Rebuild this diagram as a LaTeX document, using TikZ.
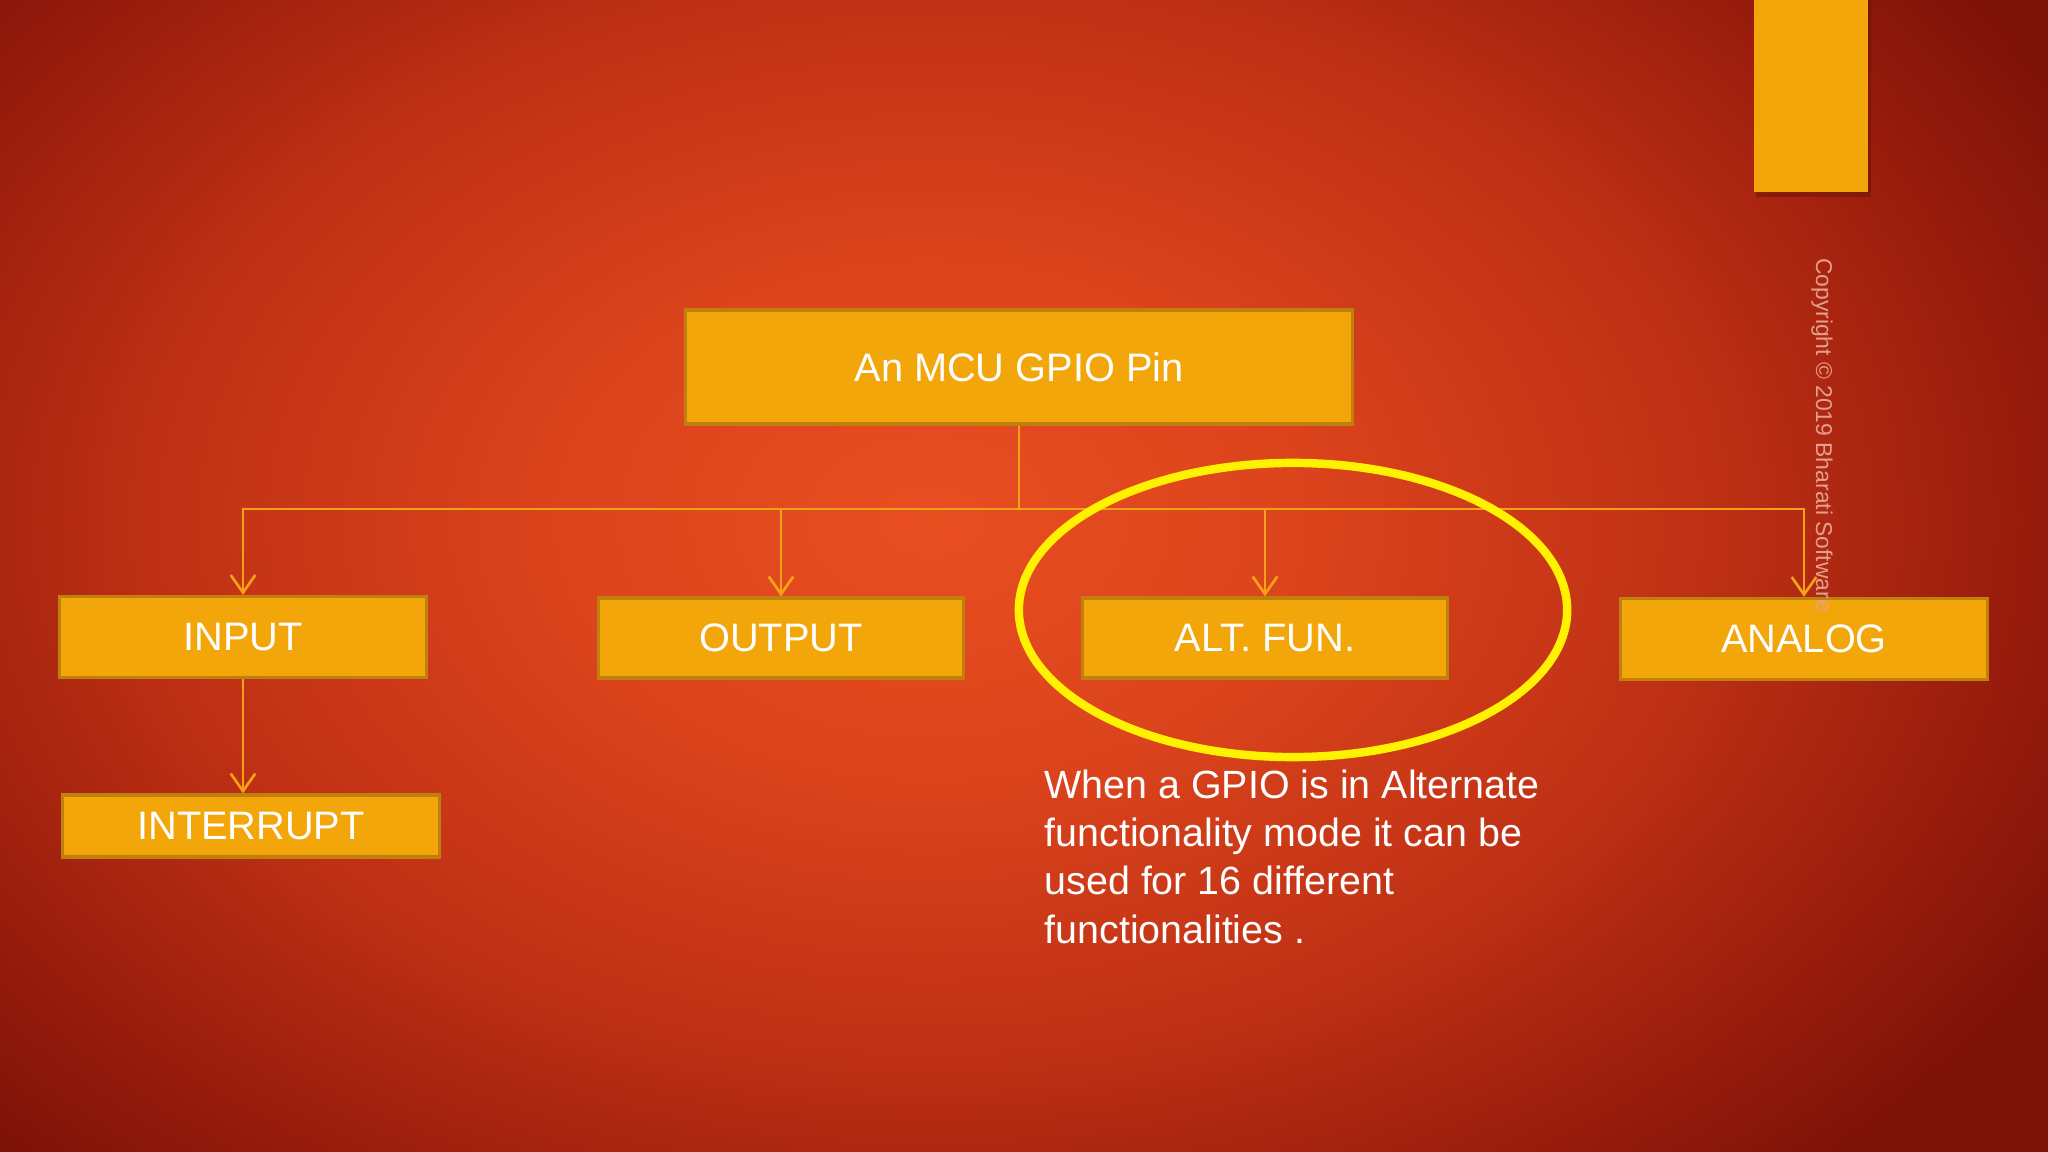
\documentclass[tikz,border=0pt]{standalone}
\usepackage{fontspec}
\setmainfont{Liberation Sans}
\usetikzlibrary{arrows.meta,shapes.geometric}
\definecolor{bgin}{RGB}{232,78,32}
\definecolor{bga}{RGB}{220,68,28}
\definecolor{bgb}{RGB}{190,48,20}
\definecolor{bgc}{RGB}{152,28,12}
\definecolor{bgout}{RGB}{125,18,8}
\definecolor{boxfill}{RGB}{243,166,10}
\definecolor{boxedge}{RGB}{192,128,14}
\definecolor{linec}{RGB}{247,162,22}
\definecolor{ringc}{RGB}{255,242,0}
\definecolor{copyc}{RGB}{228,160,140}
\definecolor{shadowc}{RGB}{100,16,6}
\pgfdeclareradialshading{bgshade}{\pgfpoint{0bp}{0bp}}{color(0bp)=(bgin); color(7bp)=(bga); color(15bp)=(bgb); color(21bp)=(bgc); color(25bp)=(bgout); color(50bp)=(bgout)}
\tikzset{
  gbox/.style={draw=boxedge, line width=0.9pt, fill=boxfill, text=white, inner sep=0pt,
    font=\fontsize{11.3pt}{13.5pt}\selectfont},
  conn/.style={draw=linec, line width=0.75pt},
  arr/.style={conn, -{Straight Barb[length=5pt, width=7pt, line width=0.75pt]}},
}
\begin{document}
\begin{tikzpicture}[x=0.01cm, y=-0.01cm]
\useasboundingbox (0,0) rectangle (2048,1152);
\fill[bgout] (0,0) rectangle (2048,1152);
\begin{scope}
  \clip (0,0) rectangle (2048,1152);
  \shade[shading=bgshade] (930,520) ellipse [x radius=1300, y radius=900];
\end{scope}
% top-right tab
\fill[shadowc, opacity=0.45] (1756,0) rectangle (1871,197);
\fill[boxfill] (1754,0) rectangle (1868,192);
% boxes
\node[gbox, minimum width=6.66cm, minimum height=1.14cm] (top) at (1019,367) {An MCU GPIO Pin};
\node[gbox, minimum width=3.66cm, minimum height=0.81cm] (input) at (243,637) {INPUT};
\node[gbox, minimum width=3.64cm, minimum height=0.80cm] (output) at (781,638) {OUTPUT};
\node[gbox, minimum width=3.65cm, minimum height=0.80cm] (alt) at (1265,638) {ALT. FUN.};
\node[gbox, minimum width=3.67cm, minimum height=0.81cm] (analog) at (1804,639) {ANALOG};
\node[gbox, minimum width=3.77cm, minimum height=0.62cm] (intr) at (251,826) {INTERRUPT};
% connectors
\coordinate (j) at (1019,509);
\draw[conn] (top.south) -- (j);
\draw[arr] (j) -| (input.north);
\draw[arr] (j) -| (output.north);
\draw[arr] (j) -| (alt.north);
\draw[arr] (j) -| (analog.north);
\draw[arr] (input.south) -- (input.south |- intr.north);
% highlight ring
\node[draw=ringc, line width=2.4pt, ellipse, minimum width=5.48cm, minimum height=2.94cm, inner sep=0pt] (ring) at (1293,610) {};
% explanation
\node[anchor=base west, inner sep=0pt, align=left, text=white,
  font=\fontsize{11.2pt}{13.66pt}\selectfont] (expl) at (1044,943)
  {When a GPIO is in Alternate\\functionality mode it can be\\used for 16 different\\functionalities .};
% copyright
\node[rotate=-90, text=copyc, inner sep=0pt, font=\fontsize{6.5pt}{8pt}\selectfont] (copy) at (1822,435)
  {Copyright © 2019 Bharati Software};
\end{tikzpicture}
\end{document}
